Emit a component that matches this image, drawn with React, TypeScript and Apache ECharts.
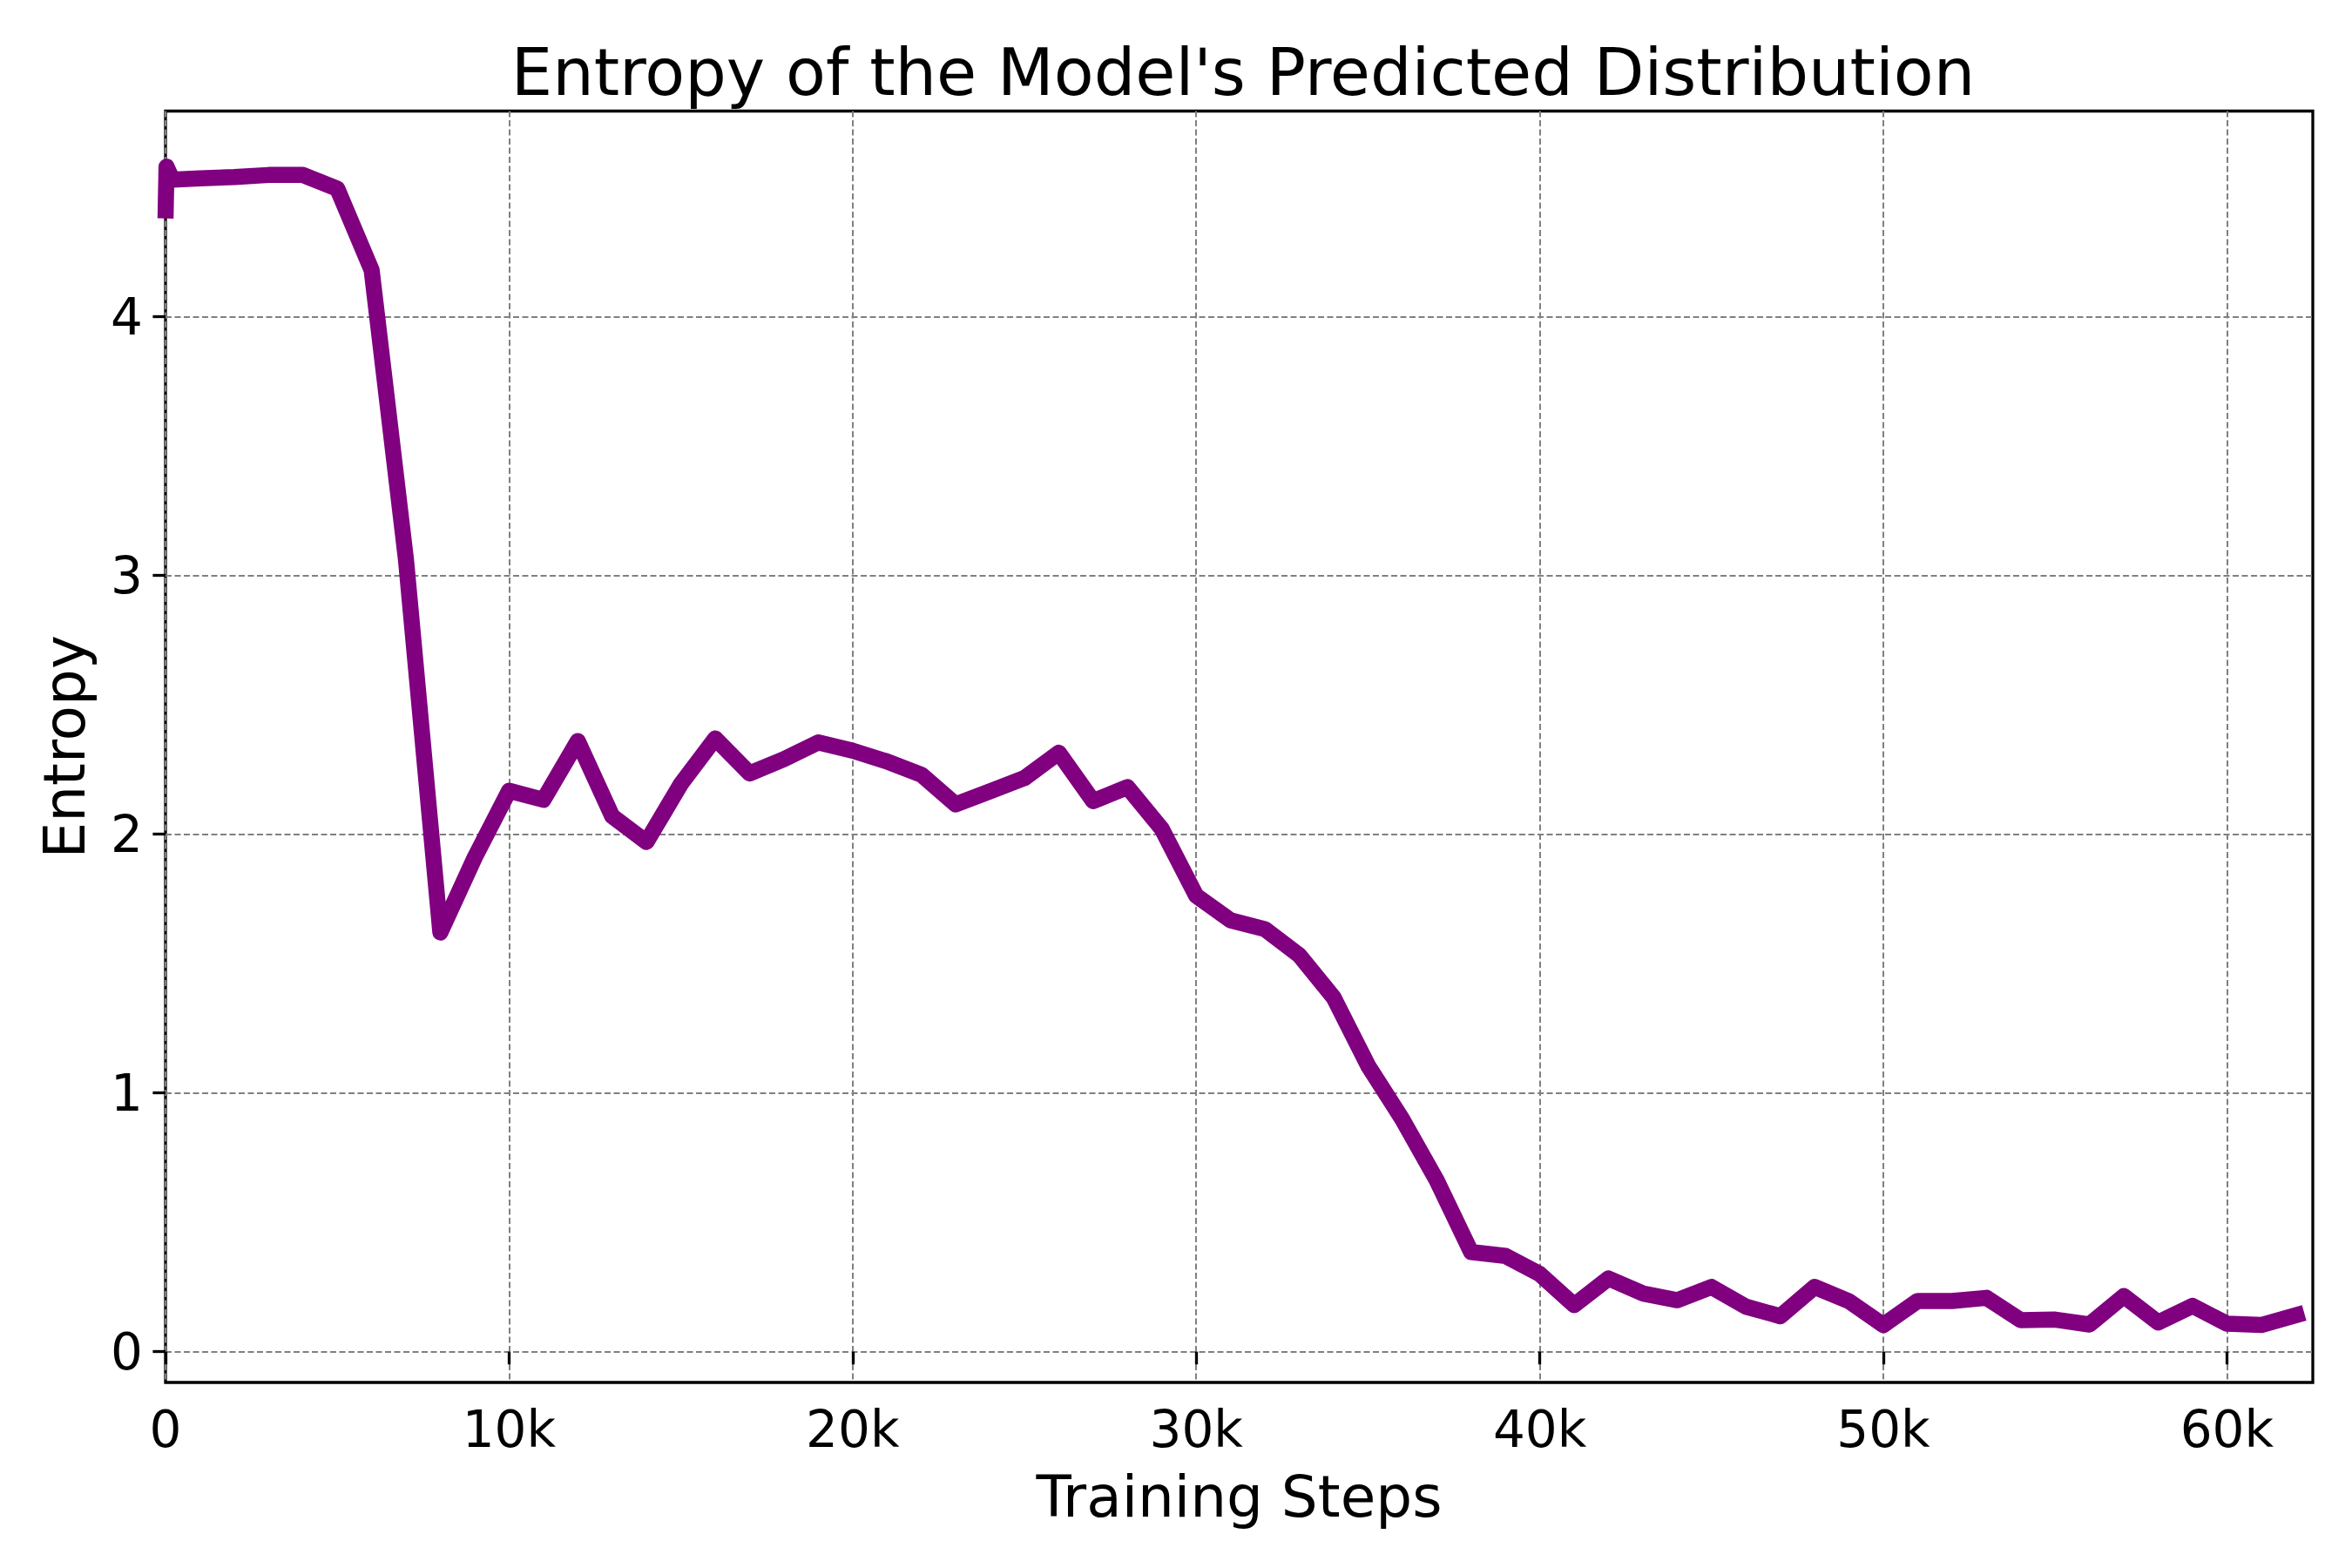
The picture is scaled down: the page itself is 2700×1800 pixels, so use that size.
import React, { useEffect, useRef } from "react";
import * as echarts from "echarts";

const TITLE = "Entropy of the Model's Predicted Distribution";
const X_NAME = "Training Steps";
const Y_NAME = "Entropy";

const steps = [
  0, 30, 200, 1000, 2000, 3000, 4000, 5000, 6000, 7000, 8000, 9000, 10000,
  11000, 12000, 13000, 14000, 15000, 16000, 17000, 18000, 19000, 20000, 21000,
  22000, 23000, 24000, 25000, 26000, 27000, 28000, 29000, 30000, 31000, 32000,
  33000, 34000, 35000, 36000, 37000, 38000, 39000, 40000, 41000, 42000, 43000,
  44000, 45000, 46000, 47000, 48000, 49000, 50000, 51000, 52000, 53000, 54000,
  55000, 56000, 57000, 58000, 59000, 60000, 61000, 62250,
];

const entropy = [
  4.38, 4.58, 4.53, 4.535, 4.54, 4.548, 4.548, 4.495, 4.18, 3.06, 1.62, 1.91,
  2.168, 2.133, 2.36, 2.07, 1.97, 2.194, 2.37, 2.235, 2.29, 2.355, 2.323, 2.281,
  2.23, 2.115, 2.166, 2.217, 2.315, 2.128, 2.182, 2.02, 1.762, 1.667, 1.633,
  1.532, 1.369, 1.106, 0.898, 0.662, 0.385, 0.37, 0.3, 0.18, 0.283, 0.225,
  0.199, 0.25, 0.174, 0.137, 0.25, 0.195, 0.103, 0.196, 0.196, 0.208, 0.122,
  0.124, 0.105, 0.215, 0.113, 0.177, 0.108, 0.103, 0.15,
];

const xTicks = [0, 10000, 20000, 30000, 40000, 50000, 60000];
const yTicks = [0, 1, 2, 3, 4];

const FONT = "DejaVu Sans";

export default function App() {
  const ref = useRef<HTMLDivElement>(null);

  useEffect(() => {
    if (!ref.current) return;
    const chart = echarts.init(ref.current, undefined, { renderer: "svg" });
    const data = steps.map((s, i) => [s, entropy[i]]);
    const gridLine = { show: true, lineStyle: { color: "#808080", width: 2, type: [7, 3.5] } };
    const tickStyle = { color: "#000", width: 3.3 };
    const option: any = {
      animation: false,
      backgroundColor: "#ffffff",
      title: {
        text: TITLE,
        left: 1422,
        top: 40,
        textAlign: "center",
        textStyle: { fontFamily: FONT, fontSize: 75, fontWeight: "normal", color: "#000" },
      },
      grid: {
        left: 190,
        top: 127.5,
        width: 2465,
        height: 1459.5,
        show: true,
        borderColor: "#000",
        borderWidth: 3.3,
        backgroundColor: "transparent",
        containLabel: false,
        outerBoundsMode: "none",
      },
      xAxis: {
        type: "value",
        min: 0,
        max: 62500,
        name: X_NAME,
        nameLocation: "middle",
        nameGap: 98,
        nameTextStyle: { fontFamily: FONT, fontSize: 66, color: "#000" },
        axisLine: { show: false },
        axisTick: { show: true, inside: false, length: 14.6, lineStyle: tickStyle, customValues: xTicks },
        axisLabel: {
          customValues: xTicks,
          margin: 25,
          fontFamily: FONT,
          fontSize: 58,
          color: "#000",
          formatter: (v: number) => (v === 0 ? "0" : `${Math.round(v / 1000)}k`),
        },
        splitLine: gridLine,
      },
      yAxis: {
        type: "value",
        min: -0.119,
        max: 4.795,
        name: Y_NAME,
        nameLocation: "middle",
        nameRotate: 90,
        nameGap: 83,
        nameTextStyle: { fontFamily: FONT, fontSize: 66, color: "#000" },
        axisLine: { show: false },
        axisTick: { show: true, inside: false, length: 14.6, lineStyle: tickStyle, customValues: yTicks },
        axisLabel: {
          customValues: yTicks,
          margin: 26,
          fontFamily: FONT,
          fontSize: 58,
          color: "#000",
          formatter: (v: number) => String(v),
        },
        splitLine: gridLine,
      },
      series: [
        {
          type: "line",
          data,
          symbol: "none",
          showSymbol: false,
          clip: true,
          lineStyle: { color: "#800080", width: 18.5, join: "round", cap: "butt" },
        },
      ],
    };
    chart.setOption(option);
    return () => chart.dispose();
  }, []);

  return (
    <div
      ref={ref}
      style={{ position: "fixed", left: 0, top: 0, width: 2700, height: 1800, background: "#fff" }}
    />
  );
}
